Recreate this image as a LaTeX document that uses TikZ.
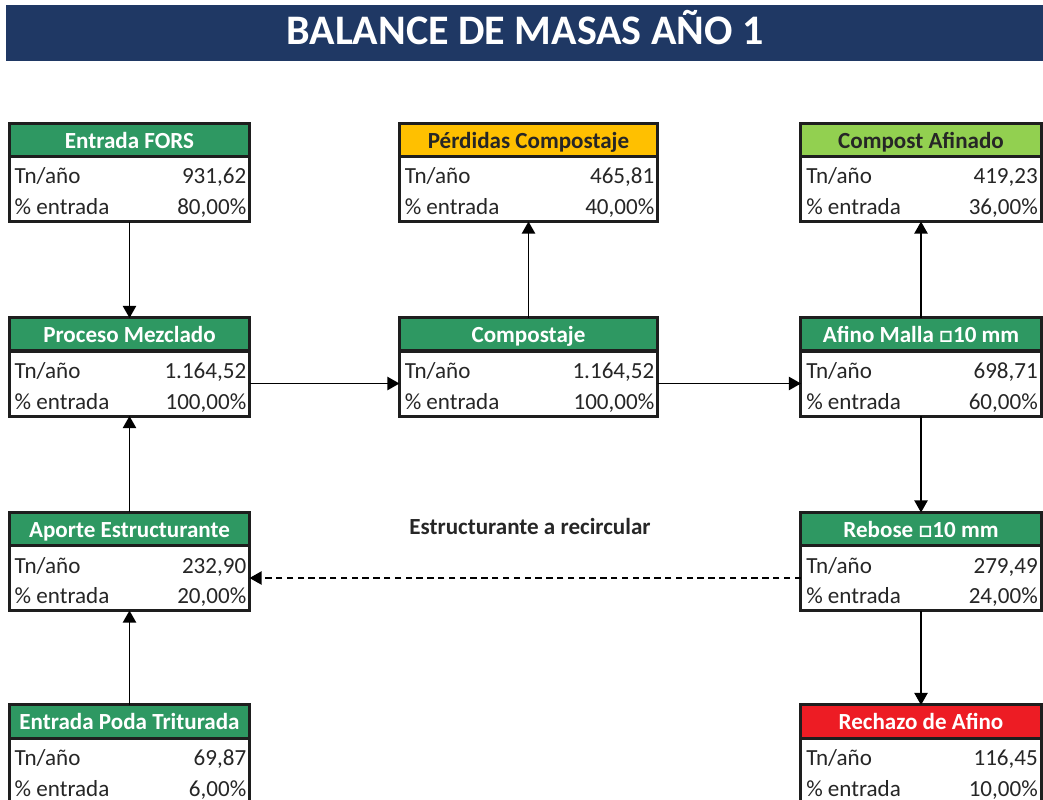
\documentclass[tikz,border=0pt]{standalone}
\usepackage{fontspec}
\setmainfont{Carlito}
\usetikzlibrary{arrows.meta, positioning, calc}

\definecolor{titleblue}{RGB}{31,56,100}
\definecolor{headgreen}{RGB}{46,152,98}
\definecolor{headyellow}{RGB}{255,192,0}
\definecolor{headlime}{RGB}{146,208,80}
\definecolor{headred}{RGB}{237,28,36}
\definecolor{boxline}{RGB}{30,30,30}
\definecolor{bodyink}{RGB}{38,38,38}

% one box: #1 name, #2 x, #3 top, #4 head fill, #5 head ink, #6 title, #7 Tn/año, #8 % entrada, #9 width
\newcommand{\massbox}[9]{%
  \node[headbox, fill=#4, minimum width=#9, anchor=north] (#1-h) at (#2,#3) {};
  \node[bodybox, minimum width=#9, anchor=north] (#1-b) at (#1-h.south) {};
  \node[headtext, text=#5, anchor=base] (#1-n) at ($(#1-h.north)+(0,-25)$) {#6};
  \node[rowtext, anchor=base west] (#1-l1) at ($(#1-b.north west)+(5,-27.5)$) {Tn/año};
  \node[rowtext, anchor=base east] (#1-v1) at ($(#1-b.north east)+(-3,-27.5)$) {#7};
  \node[rowtext, anchor=base west] (#1-l2) at ($(#1-b.north west)+(5,-58)$) {\% entrada};
  \node[rowtext, anchor=base east] (#1-v2) at ($(#1-b.north east)+(-3,-58)$) {#8};
}

\begin{document}
\begin{tikzpicture}[
    x=0.025cm, y=0.025cm,
    headbox/.style={rectangle, draw=boxline, line width=0.075cm, minimum height=0.825cm, outer sep=0pt, inner sep=0pt},
    bodybox/.style={rectangle, draw=boxline, line width=0.075cm, fill=white, minimum height=1.625cm, outer sep=0pt, inner sep=0pt},
    headtext/.style={inner sep=0pt, font=\fontsize{16.4}{19}\selectfont\bfseries},
    rowtext/.style={inner sep=0pt, text=bodyink, font=\fontsize{16.4}{19}\selectfont},
    titlebar/.style={rectangle, fill=titleblue, minimum width=25.925cm, minimum height=1.4cm, inner sep=0pt},
    notetext/.style={inner sep=0pt, text=bodyink, font=\fontsize{16.4}{19}\selectfont\bfseries},
    flow/.style={-{Triangle[length=0.3cm, width=0.33cm]}, line width=1pt, black},
    recycle/.style={flow, dash pattern=on 0.16cm off 0.11cm}
]
\useasboundingbox (0,0) rectangle (1043,800);

% title
\node[titlebar] (titlebar) at (524.5,767) {};
\node[inner sep=0pt, text=white, anchor=base, font=\fontsize{29.9}{34}\selectfont\bfseries] (title) at (525,755) {BALANCE DE MASAS AÑO 1};

% boxes
\massbox{fors}{129.5}{676.5}{headgreen}{white}{Entrada FORS}{931,62}{80,00\%}{6cm}
\massbox{perdidas}{528.5}{676.5}{headyellow}{bodyink}{Pérdidas Compostaje}{465,81}{40,00\%}{6.45cm}
\massbox{cafinado}{921}{676.5}{headlime}{bodyink}{Compost Afinado}{419,23}{36,00\%}{6cm}

\massbox{mezcla}{129.5}{482}{headgreen}{white}{Proceso Mezclado}{1.164,52}{100,00\%}{6cm}
\massbox{compost}{528.5}{482}{headgreen}{white}{Compostaje}{1.164,52}{100,00\%}{6.45cm}
\massbox{afino}{921}{482}{headgreen}{white}{Afino Malla □10 mm}{698,71}{60,00\%}{6cm}

\massbox{aporte}{129.5}{287.5}{headgreen}{white}{Aporte Estructurante}{232,90}{20,00\%}{6cm}
\massbox{rebose}{921}{287.5}{headgreen}{white}{Rebose □10 mm}{279,49}{24,00\%}{6cm}

\massbox{poda}{129.5}{95}{headgreen}{white}{Entrada Poda Triturada}{69,87}{6,00\%}{6cm}
\massbox{rechazo}{921}{95}{headred}{white}{Rechazo de Afino}{116,45}{10,00\%}{6cm}

\node[notetext, anchor=base] (recirc) at (530,265) {Estructurante a recircular};

% flows
\draw[flow] (fors-b.south) -- (mezcla-h.north);
\draw[flow] (aporte-h.north) -- (mezcla-b.south);
\draw[flow] (poda-h.north) -- (aporte-b.south);
\draw[flow] (mezcla-b.east) -- (compost-b.west);
\draw[flow] (compost-h.north) -- (perdidas-b.south);
\draw[flow] (compost-b.east) -- (afino-b.west);
\draw[flow] (afino-h.north) -- (cafinado-b.south);
\draw[flow] (afino-b.south) -- (rebose-h.north);
\draw[flow] (rebose-b.south) -- (rechazo-h.north);
\draw[recycle] (rebose-b.west) -- (aporte-b.east);
\end{tikzpicture}
\end{document}
